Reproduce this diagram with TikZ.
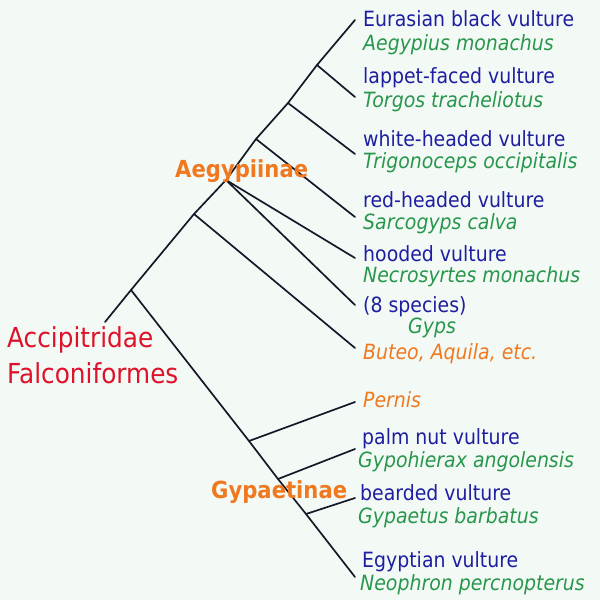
\documentclass[tikz,border=0pt]{standalone}
\usepackage{fontspec}
\setmainfont[FakeStretch=0.9]{DejaVu Sans}
\definecolor{bgcol}{RGB}{243,250,246}
\definecolor{linecol}{RGB}{22,24,40}
\definecolor{cname}{RGB}{30,30,160}
\definecolor{sname}{RGB}{40,150,75}
\definecolor{oname}{RGB}{240,120,30}
\definecolor{rname}{RGB}{222,18,42}
\begin{document}
\begin{tikzpicture}[x=1pt,y=-1pt,
  branch/.style={draw=linecol,line width=1.7pt,line join=round,line cap=round},
  lbl/.style={anchor=base west,inner sep=0pt,font=\fontsize{21}{24}\selectfont},
  common/.style={lbl,text=cname},
  sci/.style={lbl,text=sname,font=\fontsize{21}{24}\selectfont\itshape},
  other/.style={lbl,text=oname,font=\fontsize{21}{24}\selectfont\itshape},
  clade/.style={lbl,text=oname,font=\fontsize{23.5}{26}\selectfont\bfseries},
  order/.style={lbl,text=rname,font=\fontsize{27.5}{30}\selectfont}]
\fill[bgcol] (0,0) rectangle (600,600);
\useasboundingbox (0,0) rectangle (600,600);
% junctions
\coordinate (root) at (131,290);
\coordinate (base) at (105,322);
\coordinate (n5) at (194,214);
\coordinate (n4) at (226,180);
\coordinate (n3) at (256,139);
\coordinate (n2) at (288,103);
\coordinate (n1) at (317,65);
\coordinate (g1) at (249,441);
\coordinate (g2) at (278,479);
\coordinate (g3) at (306,514);
% tips
\coordinate (tEur) at (355,20);
\coordinate (tLap) at (355,97);
\coordinate (tWhi) at (355,154);
\coordinate (tRed) at (355,217);
\coordinate (tHoo) at (355,258);
\coordinate (tGyp) at (355,305);
\coordinate (tBut) at (355,348);
\coordinate (tPer) at (355,402);
\coordinate (tPal) at (355,449);
\coordinate (tBea) at (355,498);
\coordinate (tEgy) at (355,577);
% branches
\draw[branch] (base) -- (root) -- (n5) -- (n4) -- (n3) -- (n2) -- (n1) -- (tEur);
\draw[branch] (n1) -- (tLap);
\draw[branch] (n2) -- (tWhi);
\draw[branch] (n3) -- (tRed);
\draw[branch] (n4) -- (tHoo);
\draw[branch] (n4) -- (tGyp);
\draw[branch] (n5) -- (tBut);
\draw[branch] (root) -- (g1) -- (g2) -- (g3) -- (tEgy);
\draw[branch] (g1) -- (tPer);
\draw[branch] (g2) -- (tPal);
\draw[branch] (g3) -- (tBea);
% labels
\node[common] (eurC) at (363,26) {Eurasian black vulture};
\node[sci] (eurS) at (363,50) {Aegypius monachus};
\node[common] (lapC) at (363,83) {lappet-faced vulture};
\node[sci] (lapS) at (363,107) {Torgos tracheliotus};
\node[common] (whiC) at (363,146) {white-headed vulture};
\node[sci] (whiS) at (363,168) {Trigonoceps occipitalis};
\node[common] (redC) at (363,207) {red-headed vulture};
\node[sci] (redS) at (363,229) {Sarcogyps calva};
\node[common] (hooC) at (363,261) {hooded vulture};
\node[sci] (hooS) at (363,282) {Necrosyrtes monachus};
\node[common] (gypC) at (363,312) {(8 species)};
\node[sci] (gypS) at (408,333) {Gyps};
\node[other] (but) at (363,359) {Buteo, Aquila, etc.};
\node[other] (per) at (363,407) {Pernis};
\node[common] (palC) at (362,444) {palm nut vulture};
\node[sci] (palS) at (358,467) {Gypohierax angolensis};
\node[common] (beaC) at (360,500) {bearded vulture};
\node[sci] (beaS) at (358,523) {Gypaetus barbatus};
\node[common] (egyC) at (362,567) {Egyptian vulture};
\node[sci] (egyS) at (360,590) {Neophron percnopterus};
\node[clade] (aeg) at (175,177) {Aegypiinae};
\node[clade] (gyp) at (211,498) {Gypaetinae};
\node[order] (acc) at (7,347) {Accipitridae};
\node[order] (fal) at (7,383) {Falconiformes};
\end{tikzpicture}
\end{document}
